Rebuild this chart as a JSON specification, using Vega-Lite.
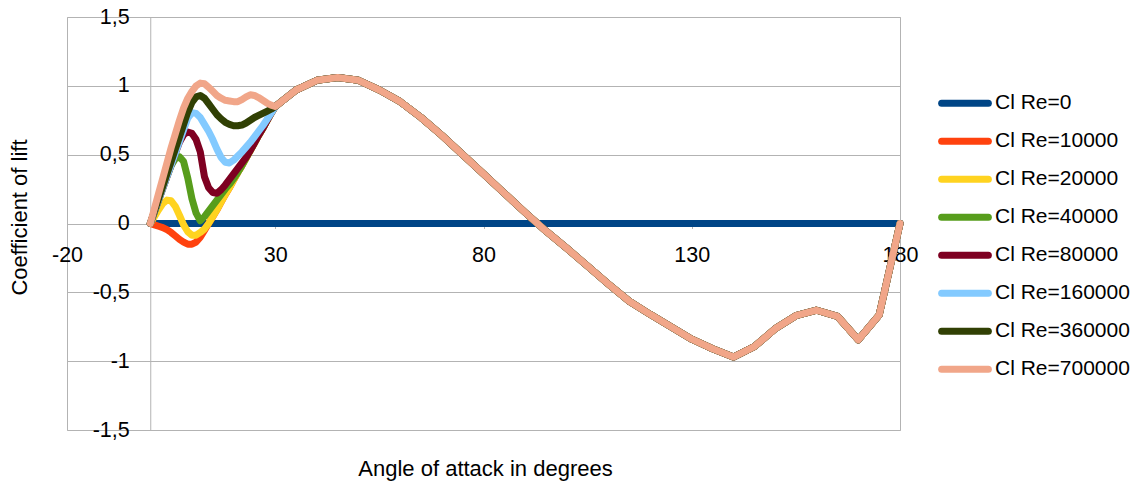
{
  "$schema": "https://vega.github.io/schema/vega-lite/v6.json",
  "width": 833,
  "height": 413,
  "autosize": {"type": "none"},
  "padding": {"left": 67, "top": 17, "right": 235, "bottom": 52},
  "background": "white",
  "config": {
    "locale": {"number": {"decimal": ",", "thousands": ".", "grouping": [3], "currency": ["", ""], "minus": "-"}},
    "font": "Liberation Sans",
    "view": {"stroke": "#b3b3b3", "strokeWidth": 1}
  },
  "data": {"values": [
    {"a":0,"r0":0,"r1":0,"r2":0,"r4":0,"r8":0,"r16":0,"r36":0,"r70":0},
    {"a":1,"r0":0,"r1":-0.01,"r2":0.05,"r4":0.085,"r8":0.085,"r16":0.085,"r36":0.09,"r70":0.11},
    {"a":2,"r0":0,"r1":-0.02,"r2":0.1,"r4":0.17,"r8":0.17,"r16":0.17,"r36":0.18,"r70":0.22},
    {"a":3,"r0":0,"r1":-0.03,"r2":0.145,"r4":0.255,"r8":0.255,"r16":0.255,"r36":0.27,"r70":0.33},
    {"a":4,"r0":0,"r1":-0.045,"r2":0.17,"r4":0.34,"r8":0.34,"r16":0.34,"r36":0.36,"r70":0.44},
    {"a":5,"r0":0,"r1":-0.065,"r2":0.165,"r4":0.42,"r8":0.425,"r16":0.425,"r36":0.45,"r70":0.55},
    {"a":6,"r0":0,"r1":-0.09,"r2":0.125,"r4":0.47,"r8":0.51,"r16":0.51,"r36":0.54,"r70":0.65},
    {"a":7,"r0":0,"r1":-0.115,"r2":0.06,"r4":0.485,"r8":0.59,"r16":0.595,"r36":0.63,"r70":0.75},
    {"a":8,"r0":0,"r1":-0.135,"r2":-0.01,"r4":0.45,"r8":0.645,"r16":0.68,"r36":0.72,"r70":0.84},
    {"a":9,"r0":0,"r1":-0.15,"r2":-0.06,"r4":0.33,"r8":0.665,"r16":0.765,"r36":0.81,"r70":0.91},
    {"a":10,"r0":0,"r1":-0.15,"r2":-0.085,"r4":0.18,"r8":0.655,"r16":0.805,"r36":0.88,"r70":0.96},
    {"a":11,"r0":0,"r1":-0.135,"r2":-0.085,"r4":0.075,"r8":0.61,"r16":0.8,"r36":0.92,"r70":1.0},
    {"a":12,"r0":0,"r1":-0.1,"r2":-0.065,"r4":0.02,"r8":0.52,"r16":0.77,"r36":0.93,"r70":1.02},
    {"a":13,"r0":0,"r1":-0.05,"r2":-0.04,"r4":0.05,"r8":0.34,"r16":0.72,"r36":0.91,"r70":1.015},
    {"a":14,"r0":0,"r1":0,"r2":0,"r4":0.09,"r8":0.26,"r16":0.67,"r36":0.87,"r70":0.99},
    {"a":15,"r0":0,"r1":0.05,"r2":0.05,"r4":0.13,"r8":0.225,"r16":0.61,"r36":0.83,"r70":0.96},
    {"a":16,"r0":0,"r1":0.1,"r2":0.1,"r4":0.17,"r8":0.22,"r16":0.54,"r36":0.79,"r70":0.93},
    {"a":17,"r0":0,"r1":0.155,"r2":0.155,"r4":0.21,"r8":0.245,"r16":0.48,"r36":0.76,"r70":0.91},
    {"a":18,"r0":0,"r1":0.21,"r2":0.21,"r4":0.25,"r8":0.28,"r16":0.445,"r36":0.735,"r70":0.895},
    {"a":19,"r0":0,"r1":0.26,"r2":0.26,"r4":0.285,"r8":0.32,"r16":0.44,"r36":0.72,"r70":0.89},
    {"a":20,"r0":0,"r1":0.315,"r2":0.315,"r4":0.325,"r8":0.36,"r16":0.46,"r36":0.71,"r70":0.885},
    {"a":21,"r0":0,"r1":0.37,"r2":0.37,"r4":0.37,"r8":0.4,"r16":0.49,"r36":0.71,"r70":0.885},
    {"a":22,"r0":0,"r1":0.42,"r2":0.42,"r4":0.42,"r8":0.44,"r16":0.52,"r36":0.715,"r70":0.9},
    {"a":23,"r0":0,"r1":0.475,"r2":0.475,"r4":0.475,"r8":0.48,"r16":0.555,"r36":0.73,"r70":0.92},
    {"a":24,"r0":0,"r1":0.53,"r2":0.53,"r4":0.53,"r8":0.53,"r16":0.59,"r36":0.75,"r70":0.935},
    {"a":25,"r0":0,"r1":0.585,"r2":0.585,"r4":0.585,"r8":0.585,"r16":0.63,"r36":0.77,"r70":0.93},
    {"a":26,"r0":0,"r1":0.64,"r2":0.64,"r4":0.64,"r8":0.64,"r16":0.67,"r36":0.785,"r70":0.915},
    {"a":27,"r0":0,"r1":0.69,"r2":0.69,"r4":0.69,"r8":0.69,"r16":0.71,"r36":0.8,"r70":0.895},
    {"a":28,"r0":0,"r1":0.745,"r2":0.745,"r4":0.745,"r8":0.745,"r16":0.755,"r36":0.815,"r70":0.875},
    {"a":29,"r0":0,"r1":0.8,"r2":0.8,"r4":0.8,"r8":0.8,"r16":0.8,"r36":0.83,"r70":0.86},
    {"a":30,"r0":0,"r1":0.85,"r2":0.85,"r4":0.85,"r8":0.85,"r16":0.85,"r36":0.85,"r70":0.85},
    {"a":35,"r0":0,"r1":0.97,"r2":0.97,"r4":0.97,"r8":0.97,"r16":0.97,"r36":0.97,"r70":0.97},
    {"a":40,"r0":0,"r1":1.04,"r2":1.04,"r4":1.04,"r8":1.04,"r16":1.04,"r36":1.04,"r70":1.04},
    {"a":45,"r0":0,"r1":1.06,"r2":1.06,"r4":1.06,"r8":1.06,"r16":1.06,"r36":1.06,"r70":1.06},
    {"a":50,"r0":0,"r1":1.04,"r2":1.04,"r4":1.04,"r8":1.04,"r16":1.04,"r36":1.04,"r70":1.04},
    {"a":55,"r0":0,"r1":0.97,"r2":0.97,"r4":0.97,"r8":0.97,"r16":0.97,"r36":0.97,"r70":0.97},
    {"a":60,"r0":0,"r1":0.885,"r2":0.885,"r4":0.885,"r8":0.885,"r16":0.885,"r36":0.885,"r70":0.885},
    {"a":65,"r0":0,"r1":0.77,"r2":0.77,"r4":0.77,"r8":0.77,"r16":0.77,"r36":0.77,"r70":0.77},
    {"a":70,"r0":0,"r1":0.64,"r2":0.64,"r4":0.64,"r8":0.64,"r16":0.64,"r36":0.64,"r70":0.64},
    {"a":75,"r0":0,"r1":0.5,"r2":0.5,"r4":0.5,"r8":0.5,"r16":0.5,"r36":0.5,"r70":0.5},
    {"a":80,"r0":0,"r1":0.36,"r2":0.36,"r4":0.36,"r8":0.36,"r16":0.36,"r36":0.36,"r70":0.36},
    {"a":85,"r0":0,"r1":0.22,"r2":0.22,"r4":0.22,"r8":0.22,"r16":0.22,"r36":0.22,"r70":0.22},
    {"a":90,"r0":0,"r1":0.08,"r2":0.08,"r4":0.08,"r8":0.08,"r16":0.08,"r36":0.08,"r70":0.08},
    {"a":95,"r0":0,"r1":-0.055,"r2":-0.055,"r4":-0.055,"r8":-0.055,"r16":-0.055,"r36":-0.055,"r70":-0.055},
    {"a":100,"r0":0,"r1":-0.18,"r2":-0.18,"r4":-0.18,"r8":-0.18,"r16":-0.18,"r36":-0.18,"r70":-0.18},
    {"a":105,"r0":0,"r1":-0.31,"r2":-0.31,"r4":-0.31,"r8":-0.31,"r16":-0.31,"r36":-0.31,"r70":-0.31},
    {"a":110,"r0":0,"r1":-0.44,"r2":-0.44,"r4":-0.44,"r8":-0.44,"r16":-0.44,"r36":-0.44,"r70":-0.44},
    {"a":115,"r0":0,"r1":-0.565,"r2":-0.565,"r4":-0.565,"r8":-0.565,"r16":-0.565,"r36":-0.565,"r70":-0.565},
    {"a":120,"r0":0,"r1":-0.66,"r2":-0.66,"r4":-0.66,"r8":-0.66,"r16":-0.66,"r36":-0.66,"r70":-0.66},
    {"a":125,"r0":0,"r1":-0.75,"r2":-0.75,"r4":-0.75,"r8":-0.75,"r16":-0.75,"r36":-0.75,"r70":-0.75},
    {"a":130,"r0":0,"r1":-0.84,"r2":-0.84,"r4":-0.84,"r8":-0.84,"r16":-0.84,"r36":-0.84,"r70":-0.84},
    {"a":135,"r0":0,"r1":-0.91,"r2":-0.91,"r4":-0.91,"r8":-0.91,"r16":-0.91,"r36":-0.91,"r70":-0.91},
    {"a":140,"r0":0,"r1":-0.97,"r2":-0.97,"r4":-0.97,"r8":-0.97,"r16":-0.97,"r36":-0.97,"r70":-0.97},
    {"a":145,"r0":0,"r1":-0.895,"r2":-0.895,"r4":-0.895,"r8":-0.895,"r16":-0.895,"r36":-0.895,"r70":-0.895},
    {"a":150,"r0":0,"r1":-0.765,"r2":-0.765,"r4":-0.765,"r8":-0.765,"r16":-0.765,"r36":-0.765,"r70":-0.765},
    {"a":155,"r0":0,"r1":-0.67,"r2":-0.67,"r4":-0.67,"r8":-0.67,"r16":-0.67,"r36":-0.67,"r70":-0.67},
    {"a":160,"r0":0,"r1":-0.63,"r2":-0.63,"r4":-0.63,"r8":-0.63,"r16":-0.63,"r36":-0.63,"r70":-0.63},
    {"a":165,"r0":0,"r1":-0.675,"r2":-0.675,"r4":-0.675,"r8":-0.675,"r16":-0.675,"r36":-0.675,"r70":-0.675},
    {"a":170,"r0":0,"r1":-0.845,"r2":-0.845,"r4":-0.845,"r8":-0.845,"r16":-0.845,"r36":-0.845,"r70":-0.845},
    {"a":175,"r0":0,"r1":-0.665,"r2":-0.665,"r4":-0.665,"r8":-0.665,"r16":-0.665,"r36":-0.665,"r70":-0.665},
    {"a":180,"r0":0,"r1":0,"r2":0,"r4":0,"r8":0,"r16":0,"r36":0,"r70":0}
  ]},
  "transform": [
    {"fold": ["r0", "r1", "r2", "r4", "r8", "r16", "r36", "r70"], "as": ["series", "cl"]}
  ],
  "mark": {"type": "line", "strokeWidth": 7, "strokeCap": "round", "strokeJoin": "round"},
  "encoding": {
    "x": {
      "field": "a", "type": "quantitative",
      "scale": {"domain": [-20, 180], "nice": false, "zero": false},
      "axis": {
        "values": [-20, 30, 80, 130, 180], "format": "d", "offset": -206.5,
        "grid": false, "domain": false, "ticks": true, "tickColor": "#b3b3b3", "tickSize": 5,
        "labelPadding": 16, "labelFontSize": 21.5, "labelColor": "black", "labelFlush": false, "labelOverlap": false,
        "title": "Angle of attack in degrees", "titleFontSize": 22, "titleFontWeight": "normal", "titleColor": "black",
        "titleX": 418, "titleY": 251.5, "titleBaseline": "alphabetic", "titleAlign": "center"
      }
    },
    "y": {
      "field": "cl", "type": "quantitative",
      "scale": {"domain": [-1.5, 1.5], "nice": false},
      "axis": {
        "values": [-1.5, -1, -0.5, 0, 0.5, 1, 1.5], "format": "~g", "offset": -83.25,
        "grid": true, "gridColor": "#b3b3b3", "gridWidth": 1,
        "domain": true, "domainColor": "#b3b3b3", "tickColor": "#b3b3b3", "tickSize": 5,
        "labelPadding": 16, "labelFontSize": 21.5, "labelColor": "black", "labelFlush": false, "labelOverlap": false,
        "title": "Coefficient of lift", "titleFontSize": 22, "titleFontWeight": "normal", "titleColor": "black",
        "titleX": -123.5, "titleY": 200, "titleAngle": -90, "titleBaseline": "alphabetic", "titleAlign": "center"
      }
    },
    "color": {
      "field": "series", "type": "nominal",
      "scale": {
        "domain": ["r0", "r1", "r2", "r4", "r8", "r16", "r36", "r70"],
        "range": ["#004586", "#ff420e", "#ffd320", "#579d1c", "#7e0021", "#83caff", "#314004", "#f1a689"]
      },
      "legend": {
        "orient": "none", "legendX": 871, "legendY": 67.5, "title": null, "padding": 0,
        "symbolType": "stroke", "symbolSize": 2180, "symbolStrokeWidth": 7,
        "clipHeight": 37.6, "rowPadding": 0,
        "labelFontSize": 21, "labelColor": "black", "labelOffset": 3, "labelLimit": 300,
        "labelExpr": "datum.label == 'r0' ? 'Cl Re=0' : datum.label == 'r1' ? 'Cl Re=10000' : datum.label == 'r2' ? 'Cl Re=20000' : datum.label == 'r4' ? 'Cl Re=40000' : datum.label == 'r8' ? 'Cl Re=80000' : datum.label == 'r16' ? 'Cl Re=160000' : datum.label == 'r36' ? 'Cl Re=360000' : 'Cl Re=700000'",
        "encode": {"symbols": {"update": {"strokeCap": {"value": "round"}}}}
      }
    }
  }
}
